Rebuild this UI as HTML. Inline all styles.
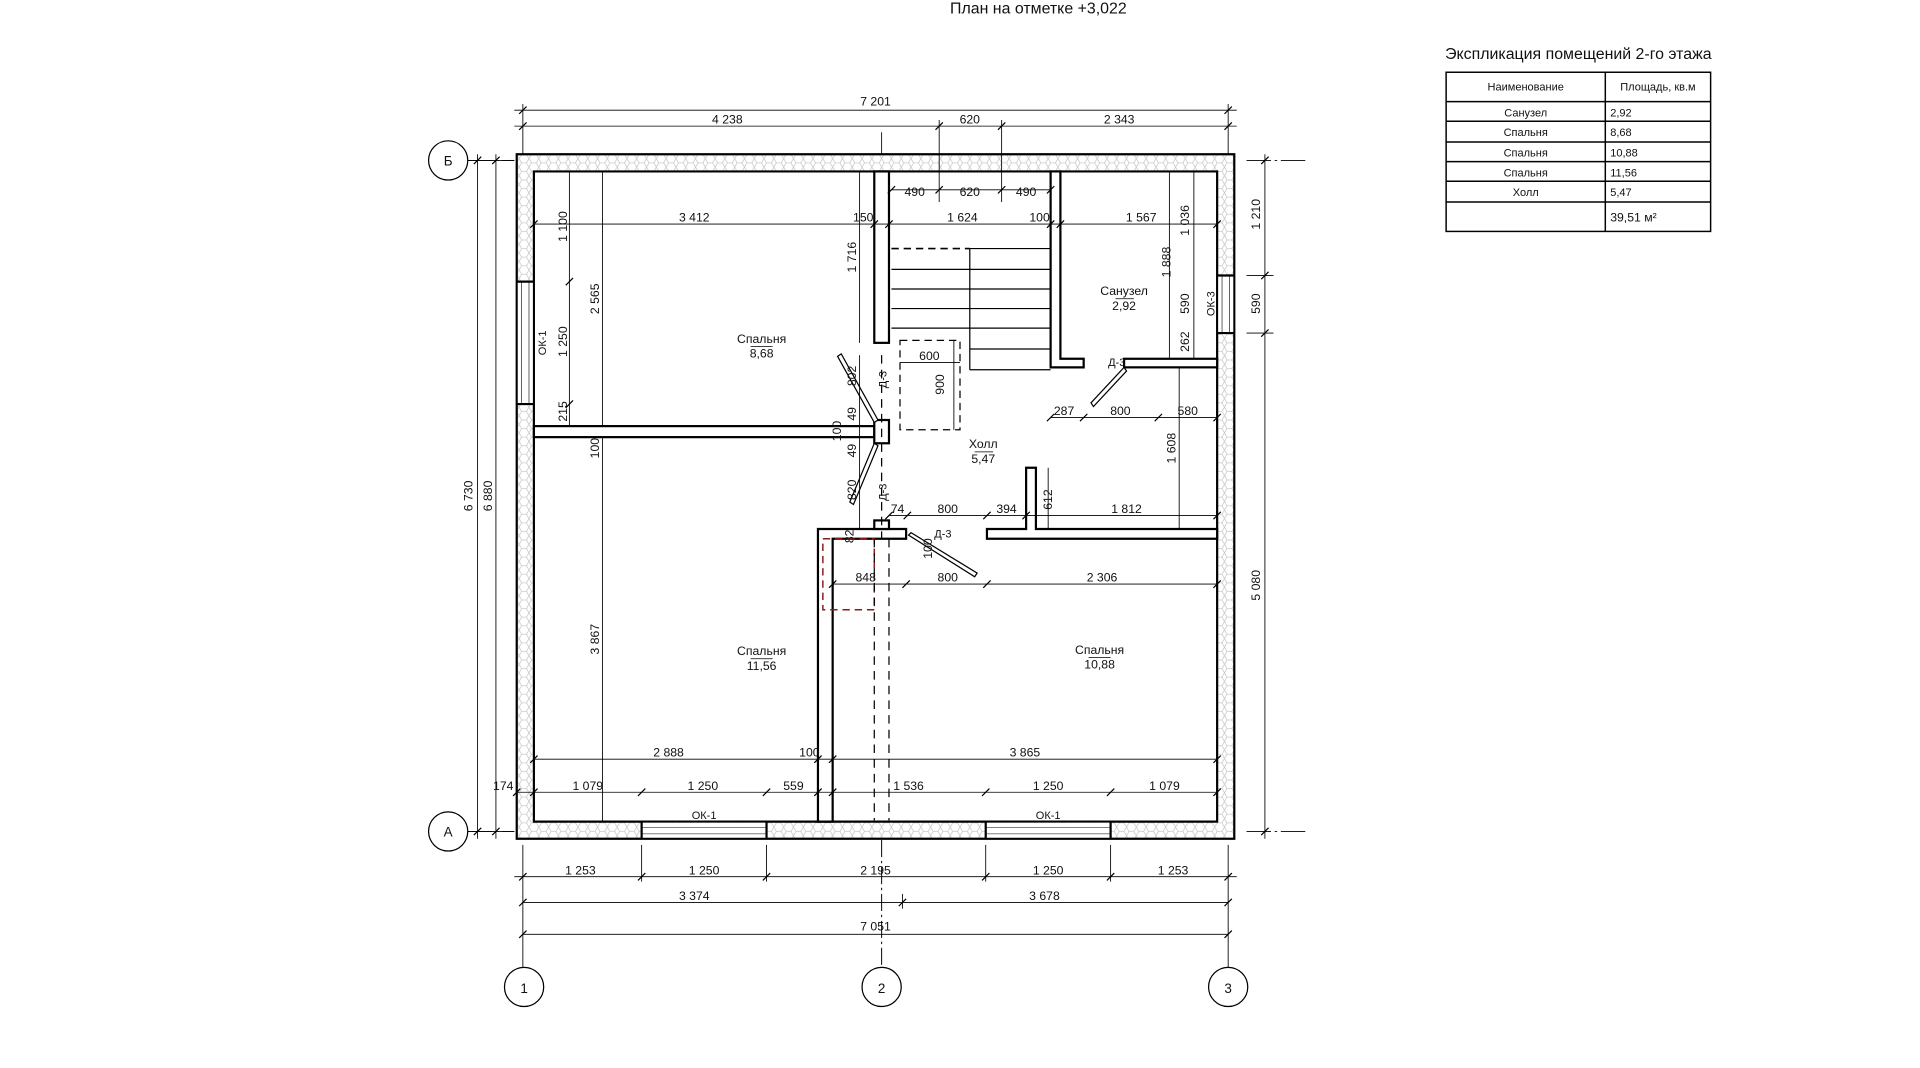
<!DOCTYPE html>
<html><head><meta charset="utf-8"><style>
html,body{margin:0;padding:0;background:#fff;width:1920px;height:1068px;overflow:hidden}
svg{display:block}
text{font-family:"Liberation Sans Narrow","Liberation Sans","DejaVu Sans Condensed",sans-serif;fill:#111}
</style></head><body>
<svg width="1920" height="1068" viewBox="0 0 1920 1068" xmlns="http://www.w3.org/2000/svg">
<defs>
<pattern id="hx" width="8" height="7" patternUnits="userSpaceOnUse">
<rect width="8" height="7" fill="#fff"/>
<path d="M0 3.5 L2 0 L6 0 L8 3.5 L6 7 L2 7 Z" fill="none" stroke="#c8c8c8" stroke-width="0.6"/>
</pattern>
</defs>
<g transform="scale(1.22449)">
<!-- title -->
<text x="848" y="11" font-size="13" text-anchor="middle">План на отметке +3,022</text>

<!-- outer wall -->
<path d="M422 126 H1008 V685 H422 Z M436 140 V671 H994 V140 Z" fill="url(#hx)" fill-rule="evenodd" stroke="#000" stroke-width="1.8"/>
<!-- window openings -->
<g stroke="#000">
<rect x="422.9" y="230" width="12.2" height="100" fill="#fff" stroke="none"/>
<line x1="422" y1="230" x2="436" y2="230" stroke-width="1.8"/><line x1="422" y1="330" x2="436" y2="330" stroke-width="1.8"/>
<line x1="422" y1="230" x2="422" y2="330" stroke-width="0.7"/><line x1="426" y1="230" x2="426" y2="330" stroke-width="0.5"/><line x1="432" y1="230" x2="432" y2="330" stroke-width="0.5"/>
<rect x="994.9" y="225" width="12.2" height="47" fill="#fff" stroke="none"/>
<line x1="994" y1="225" x2="1008" y2="225" stroke-width="1.8"/><line x1="994" y1="272" x2="1008" y2="272" stroke-width="1.8"/>
<line x1="1008" y1="225" x2="1008" y2="272" stroke-width="0.7"/><line x1="998" y1="225" x2="998" y2="272" stroke-width="0.5"/><line x1="1004" y1="225" x2="1004" y2="272" stroke-width="0.5"/>
<rect x="524" y="671.9" width="102" height="12.2" fill="#fff" stroke="none"/>
<line x1="524" y1="671" x2="524" y2="685" stroke-width="1.8"/><line x1="626" y1="671" x2="626" y2="685" stroke-width="1.8"/>
<line x1="524" y1="685" x2="626" y2="685" stroke-width="0.7"/><line x1="524" y1="676" x2="626" y2="676" stroke-width="0.5"/><line x1="524" y1="681" x2="626" y2="681" stroke-width="0.5"/>
<rect x="805" y="671.9" width="102" height="12.2" fill="#fff" stroke="none"/>
<line x1="805" y1="671" x2="805" y2="685" stroke-width="1.8"/><line x1="907" y1="671" x2="907" y2="685" stroke-width="1.8"/>
<line x1="805" y1="685" x2="907" y2="685" stroke-width="0.7"/><line x1="805" y1="676" x2="907" y2="676" stroke-width="0.5"/><line x1="805" y1="681" x2="907" y2="681" stroke-width="0.5"/>
</g>

<!-- interior walls -->
<g fill="#fff" stroke="#000" stroke-width="1.8">
<rect x="714" y="140" width="12" height="140"/>
<path d="M858 140 H866 V293 H885 V300 H858 Z"/>
<rect x="918" y="293" width="76" height="7"/>
<rect x="436" y="348" width="278" height="9"/>
<rect x="714" y="343" width="12" height="19"/>
<path d="M668 432 H740 V440 H680 V671 H668 Z"/>
<rect x="714" y="425" width="12" height="7"/>
<path d="M806 432 H838 V382 H846 V432 H994 V440 H806 Z"/>
</g>

<!-- stairs -->
<g stroke="#000" stroke-width="1" fill="none">
<line x1="728" y1="220" x2="858" y2="220"/><line x1="728" y1="236" x2="858" y2="236"/>
<line x1="728" y1="252" x2="858" y2="252"/><line x1="728" y1="268" x2="858" y2="268"/>
<line x1="792" y1="285" x2="858" y2="285"/><line x1="792" y1="302" x2="858" y2="302"/>
<line x1="792" y1="203" x2="858" y2="203"/><line x1="792" y1="203" x2="792" y2="302"/>
<line x1="728" y1="203" x2="792" y2="203" stroke-dasharray="6 4" stroke-width="1.4"/>
<rect x="735" y="278" width="49" height="73" stroke-dasharray="6 4"/>
<rect x="672" y="440" width="42" height="58" stroke="#8b1a1a" stroke-dasharray="6 4" stroke-width="1.2"/>
<line x1="714" y1="440" x2="714" y2="670" stroke-dasharray="7 5"/>
<line x1="726" y1="440" x2="726" y2="670" stroke-dasharray="7 5"/>
<line x1="720" y1="686" x2="720" y2="790" stroke-dasharray="14 3 2 3" stroke-width="0.8"/>
<line x1="720" y1="290" x2="720" y2="440" stroke-dasharray="7 5"/>
</g>
<!-- doors -->
<g stroke="#000" stroke-width="1" fill="#fff">
<polygon points="684,291 687,289 717,343 714,345"/>
<polygon points="714,362 717,364 697,412 694,410"/>
<polygon points="918,300 920,303 893,332 891,329"/>
<polygon points="742,437 744,435 798,468 796,471"/>
</g>

<!-- dimension lines -->
<g stroke="#000" stroke-width="0.7" fill="none">
<line x1="420" y1="90" x2="1010" y2="90"/><line x1="420" y1="103" x2="1010" y2="103"/>
<line x1="427" y1="85" x2="427" y2="126"/><line x1="1003" y1="85" x2="1003" y2="126"/>
<line x1="767" y1="98" x2="767" y2="165"/><line x1="818" y1="98" x2="818" y2="165"/>
<line x1="720" y1="108" x2="720" y2="126"/>
<line x1="390" y1="126" x2="390" y2="685"/><line x1="405" y1="126" x2="405" y2="685"/>
<line x1="378" y1="131" x2="420" y2="131"/><line x1="378" y1="679" x2="420" y2="679"/>
<line x1="1033" y1="126" x2="1033" y2="685"/>
<line x1="1018" y1="225" x2="1040" y2="225"/><line x1="1018" y1="272" x2="1040" y2="272"/>
<line x1="1018" y1="131" x2="1067" y2="131" stroke-dasharray="20 3 2 3"/><line x1="1018" y1="679" x2="1067" y2="679" stroke-dasharray="20 3 2 3"/>
<line x1="382" y1="131" x2="420" y2="131" stroke-dasharray="20 3 2 3"/><line x1="382" y1="679" x2="420" y2="679" stroke-dasharray="20 3 2 3"/>
<line x1="420" y1="716" x2="1010" y2="716"/><line x1="427" y1="737" x2="1003" y2="737"/><line x1="427" y1="763" x2="1003" y2="763"/>
<line x1="427" y1="690" x2="427" y2="790"/><line x1="1003" y1="690" x2="1003" y2="790"/>
<line x1="524" y1="690" x2="524" y2="720"/><line x1="626" y1="690" x2="626" y2="720"/><line x1="805" y1="690" x2="805" y2="720"/><line x1="907" y1="690" x2="907" y2="720"/>
<line x1="737" y1="730" x2="737" y2="742"/>
<!-- interior -->
<line x1="728" y1="155" x2="858" y2="155"/>
<line x1="436" y1="183" x2="994" y2="183"/>
<line x1="465" y1="140" x2="465" y2="348"/><line x1="492" y1="140" x2="492" y2="348"/>
<line x1="702" y1="140" x2="702" y2="280"/><line x1="492" y1="357" x2="492" y2="671"/>
<line x1="702" y1="290" x2="702" y2="432"/>
<line x1="735" y1="296" x2="784" y2="296"/><line x1="779" y1="278" x2="779" y2="351"/>
<line x1="858" y1="341" x2="994" y2="341"/>
<line x1="963" y1="300" x2="963" y2="432"/>
<line x1="726" y1="421" x2="994" y2="421"/><line x1="856" y1="382" x2="856" y2="432"/>
<line x1="680" y1="477" x2="994" y2="477"/>
<line x1="436" y1="620" x2="994" y2="620"/><line x1="422" y1="647" x2="994" y2="647"/>
<line x1="955" y1="140" x2="955" y2="293"/><line x1="975" y1="140" x2="975" y2="293"/>
</g>
<!-- ticks -->
<g stroke="#000" stroke-width="1">
<path d="M424 93 l6 -6 M1000 93 l6 -6 M424 106 l6 -6 M764 106 l6 -6 M815 106 l6 -6 M1000 106 l6 -6
M387 134 l6 -6 M387 682 l6 -6 M402 134 l6 -6 M402 682 l6 -6
M1030 134 l6 -6 M1030 228 l6 -6 M1030 275 l6 -6 M1030 682 l6 -6
M424 719 l6 -6 M521 719 l6 -6 M623 719 l6 -6 M802 719 l6 -6 M904 719 l6 -6 M1000 719 l6 -6
M424 740 l6 -6 M734 740 l6 -6 M1000 740 l6 -6 M424 766 l6 -6 M1000 766 l6 -6
M725 158 l6 -6 M764 158 l6 -6 M815 158 l6 -6 M855 158 l6 -6
M433 186 l6 -6 M711 186 l6 -6 M723 186 l6 -6 M855 186 l6 -6 M863 186 l6 -6 M991 186 l6 -6
M462 233 l6 -6 M462 333 l6 -6 M855 344 l6 -6 M882 344 l6 -6 M943 344 l6 -6 M991 344 l6 -6
M723 424 l6 -6 M738 424 l6 -6 M803 424 l6 -6 M835 424 l6 -6 M991 424 l6 -6
M677 480 l6 -6 M737 480 l6 -6 M803 480 l6 -6 M991 480 l6 -6
M433 623 l6 -6 M665 623 l6 -6 M677 623 l6 -6 M991 623 l6 -6
M419 650 l6 -6 M433 650 l6 -6 M521 650 l6 -6 M623 650 l6 -6 M665 650 l6 -6 M677 650 l6 -6 M802 650 l6 -6 M904 650 l6 -6 M991 650 l6 -6"/>
</g>

<!-- grid circles -->
<g fill="#fff" stroke="#000" stroke-width="1">
<circle cx="366" cy="131" r="16"/><circle cx="366" cy="679" r="16"/>
<circle cx="428" cy="806" r="16"/><circle cx="720" cy="806" r="16"/><circle cx="1003" cy="806" r="16"/>
</g>
<g font-size="11" text-anchor="middle">
<text x="366" y="135">Б</text><text x="366" y="683">А</text>
<text x="428" y="811">1</text><text x="720" y="811">2</text><text x="1003" y="811">3</text>
</g>

<!-- dim texts -->
<g font-size="10" text-anchor="middle">
<text x="715" y="86">7 201</text>
<text x="594" y="101">4 238</text><text x="792" y="101">620</text><text x="914" y="101">2 343</text>
<text x="474" y="714">1 253</text><text x="575" y="714">1 250</text><text x="715" y="714">2 195</text><text x="856" y="714">1 250</text><text x="958" y="714">1 253</text>
<text x="567" y="735">3 374</text><text x="853" y="735">3 678</text><text x="715" y="760">7 051</text>
<text x="747" y="160">490</text><text x="792" y="160">620</text><text x="838" y="160">490</text>
<text x="567" y="181">3 412</text><text x="705" y="181">150</text><text x="786" y="181">1 624</text><text x="849" y="181">100</text><text x="932" y="181">1 567</text>
<text x="759" y="294">600</text>
<text x="869" y="339">287</text><text x="915" y="339">800</text><text x="970" y="339">580</text>
<text x="733" y="419">74</text><text x="774" y="419">800</text><text x="822" y="419">394</text><text x="920" y="419">1 812</text>
<text x="707" y="475">848</text><text x="774" y="475">800</text><text x="900" y="475">2 306</text>
<text x="546" y="618">2 888</text><text x="661" y="618">100</text><text x="837" y="618">3 865</text>
<text x="411" y="645">174</text><text x="480" y="645">1 079</text><text x="574" y="645">1 250</text><text x="648" y="645">559</text><text x="742" y="645">1 536</text><text x="856" y="645">1 250</text><text x="951" y="645">1 079</text>
<text x="575" y="669" font-size="9">ОК-1</text><text x="856" y="669" font-size="9">ОК-1</text>
<text x="912" y="299" font-size="9">Д-3</text><text x="770" y="439" font-size="9">Д-3</text>
</g>
<!-- rotated texts -->
<g font-size="10" text-anchor="middle">
<text transform="translate(386,405) rotate(-90)">6 730</text>
<text transform="translate(402,405) rotate(-90)">6 880</text>
<text transform="translate(1029,175) rotate(-90)">1 210</text>
<text transform="translate(1029,248) rotate(-90)">590</text>
<text transform="translate(1029,478) rotate(-90)">5 080</text>
<text transform="translate(463,185) rotate(-90)">1 100</text>
<text transform="translate(463,279) rotate(-90)">1 250</text>
<text transform="translate(463,336) rotate(-90)">215</text>
<text transform="translate(446,280) rotate(-90)" font-size="9">ОК-1</text>
<text transform="translate(489,244) rotate(-90)">2 565</text>
<text transform="translate(699,210) rotate(-90)">1 716</text>
<text transform="translate(489,366) rotate(-90)">100</text>
<text transform="translate(489,522) rotate(-90)">3 867</text>
<text transform="translate(699,307) rotate(-90)">802</text>
<text transform="translate(699,338) rotate(-90)">49</text>
<text transform="translate(687,352) rotate(-90)">100</text>
<text transform="translate(699,368) rotate(-90)">49</text>
<text transform="translate(699,400) rotate(-90)">820</text>
<text transform="translate(724,310) rotate(-90)" font-size="9">Д-3</text>
<text transform="translate(724,402) rotate(-90)" font-size="9">Д-3</text>
<text transform="translate(771,314) rotate(-90)">900</text>
<text transform="translate(956,214) rotate(-90)">1 888</text>
<text transform="translate(971,180) rotate(-90)">1 036</text>
<text transform="translate(971,248) rotate(-90)">590</text>
<text transform="translate(971,279) rotate(-90)">262</text>
<text transform="translate(992,248) rotate(-90)" font-size="9">ОК-3</text>
<text transform="translate(960,366) rotate(-90)">1 608</text>
<text transform="translate(859,408) rotate(-90)">612</text>
<text transform="translate(697,438) rotate(-90)">82</text>
<text transform="translate(761,448) rotate(-90)">100</text>
</g>

<!-- room labels -->
<g font-size="10" text-anchor="middle">
<text x="622" y="280">Спальня</text><text x="622" y="292">8,68</text>
<text x="918" y="241">Санузел</text><text x="918" y="253">2,92</text>
<text x="803" y="366">Холл</text><text x="803" y="378">5,47</text>
<text x="622" y="535">Спальня</text><text x="622" y="547">11,56</text>
<text x="898" y="534">Спальня</text><text x="898" y="546">10,88</text>
</g>
<g stroke="#000" stroke-width="0.6">
<line x1="613" y1="283" x2="631" y2="283"/><line x1="911" y1="244" x2="926" y2="244"/>
<line x1="796" y1="369" x2="811" y2="369"/><line x1="613" y1="538" x2="631" y2="538"/><line x1="889" y1="537" x2="907" y2="537"/>
</g>

<!-- table -->
<text x="1289" y="48" font-size="13" text-anchor="middle">Экспликация помещений 2-го этажа</text>
<g fill="none" stroke="#000" stroke-width="1.2">
<rect x="1181" y="59" width="216" height="130"/>
<line x1="1311" y1="59" x2="1311" y2="189"/>
<line x1="1181" y1="83" x2="1397" y2="83"/><line x1="1181" y1="99" x2="1397" y2="99"/>
<line x1="1181" y1="116" x2="1397" y2="116"/><line x1="1181" y1="132" x2="1397" y2="132"/>
<line x1="1181" y1="148" x2="1397" y2="148"/><line x1="1181" y1="165" x2="1397" y2="165"/>
</g>
<g font-size="9">
<text x="1246" y="74" text-anchor="middle">Наименование</text>
<text x="1354" y="74" text-anchor="middle">Площадь, кв.м</text>
<text x="1246" y="95" text-anchor="middle">Санузел</text><text x="1315" y="95">2,92</text>
<text x="1246" y="111" text-anchor="middle">Спальня</text><text x="1315" y="111">8,68</text>
<text x="1246" y="128" text-anchor="middle">Спальня</text><text x="1315" y="128">10,88</text>
<text x="1246" y="144" text-anchor="middle">Спальня</text><text x="1315" y="144">11,56</text>
<text x="1246" y="160" text-anchor="middle">Холл</text><text x="1315" y="160">5,47</text>
<text x="1315" y="181" font-size="10">39,51 м²</text>
</g>
</g>
</svg>
</body></html>
